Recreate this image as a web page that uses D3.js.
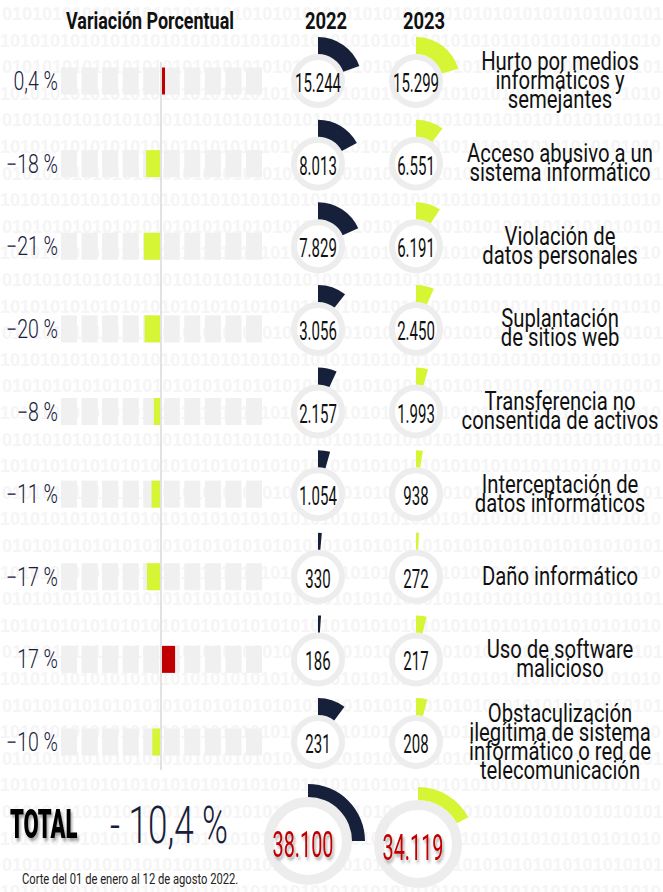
<!DOCTYPE html>
<html>
<head>
<meta charset='utf-8'>
<style>
  body { margin: 0; background: #fff; }
  text { font-family: Roboto, 'Noto Sans', sans-serif; }
</style>
<script src='https://cdn.jsdelivr.net/npm/d3@7'></script>
</head>
<body>
<script>
const categories = [
  "Hurto por medios\ninformáticos y\nsemejantes",
  "Acceso abusivo a un\nsistema informático",
  "Violación de\ndatos personales",
  "Suplantación\nde sitios web",
  "Transferencia no\nconsentida de activos",
  "Interceptación de\ndatos informáticos",
  "Daño informático",
  "Uso de software\nmalicioso",
  "Obstaculización\nilegítima de sistema\ninformático o red de\ntelecomunicación"
];
const years = ["2022", "2023"];
const values2022 = [15244, 8013, 7829, 3056, 2157, 1054, 330, 186, 231];
const values2023 = [15299, 6551, 6191, 2450, 1993, 938, 272, 217, 208];
const variation = [0.4, -18, -21, -20, -8, -11, -17, 17, -10];
// arc of each gauge in degrees, as drawn in the original (not proportional)
const arc2022 = [70, 62, 66, 38, 25, 16, 5, 4, 37];
const arc2023 = [74, 37, 33, 24, 16, 9, 4, 14, 15];
const totals = [38100, 34119];
const totalArc = [90, 62];
const totalVariation = -10.4;
const headerLeft = "Variación Porcentual";
const note = "Corte del 01 de enero al 12 de agosto 2022.";

const width = 663, height = 892;
const navy = "#17203b", lime = "#d6f534", red = "#c00000";

const loc = d3.formatLocale({ decimal: ",", thousands: ".", grouping: [3], currency: ["", ""] });
const fmtInt = loc.format(",d");
const fmtPct = v => loc.format(Number.isInteger(v) ? "d" : ".1f")(v) + " %";

const svg = d3.select("body").append("svg")
  .attr("width", width).attr("height", height);

const defs = svg.append("defs");
const sh = defs.append("filter").attr("id", "shadow").attr("x", "-20%").attr("y", "-20%").attr("width", "150%").attr("height", "150%");
sh.append("feDropShadow").attr("dx", 3).attr("dy", 3).attr("stdDeviation", 1.5)
  .attr("flood-color", "#000").attr("flood-opacity", 0.35);

// background 0101 pattern
const bg = svg.append("g");
d3.range(34).forEach(i => {
  bg.append("text")
    .attr("x", i % 2 ? 0 : 2).attr("y", 20 + i * 26.6)
    .style("font-family", "'Liberation Sans', Arial, sans-serif")
    .attr("font-weight", "bold").attr("font-size", 18)
    .attr("fill", "#f5f5f5")
    .text((i % 2 ? "10" : "01").repeat(33));
});

// condensed text helper
function ctext(g, x, y, str, size, sx, anchor) {
  return g.append("text")
    .attr("transform", `translate(${x},${y}) scale(${sx},1)`)
    .attr("text-anchor", anchor || "middle")
    .attr("font-size", size)
    .text(str);
}

const y = d3.scalePoint(categories, [81, 742]);
const x = d3.scaleLinear([-130, 130], [61, 261]);
const seg = d3.scaleBand(d3.range(10), [61, 262]).paddingInner(0.22);
const gx = d3.scalePoint(years, [318, 416]);
const ang = d3.scaleLinear([0, 360], [0, 2 * Math.PI]);
const barH = 27;

// headers
ctext(svg, 150, 29, headerLeft, 23, 0.78).attr("font-weight", "bold").attr("fill", "#111");
years.forEach(yr => ctext(svg, gx(yr) + 8, 29, yr, 23, 0.8).attr("font-weight", "bold").attr("fill", "#111"));

// axis line
svg.append("line")
  .attr("x1", x(0)).attr("x2", x(0)).attr("y1", 62).attr("y2", 770)
  .attr("stroke", "#d9d9d9").attr("stroke-width", 1.5);

const rows = svg.append("g");
categories.forEach((c, i) => {
  const cy = y(c);
  const g = rows.append("g");
  // track segments
  g.selectAll("rect.seg").data(seg.domain()).join("rect")
    .attr("class", "seg")
    .attr("x", d => seg(d)).attr("y", cy - barH / 2)
    .attr("width", seg.bandwidth()).attr("height", barH)
    .attr("fill", "#f0f0f0");
  const v = variation[i];
  const w = Math.max(3, Math.abs(x(v) - x(0)));
  g.append("rect")
    .attr("x", v < 0 ? x(0) - w - 1 : x(0) + 1).attr("y", cy - barH / 2)
    .attr("width", w).attr("height", barH)
    .attr("fill", v < 0 ? lime : red);
  ctext(g, 58, cy + 9, fmtPct(v), 25, 0.78, "end").attr("fill", navy).attr("font-weight", 300);

  // gauges
  [values2022[i], values2023[i]].forEach((val, k) => {
    const gg = g.append("g").attr("transform", `translate(${gx(years[k])},${cy})`);
    gg.append("circle").attr("r", 24).attr("fill", "#fff")
      .attr("stroke", "#ededed").attr("stroke-width", 6);
    gg.append("path")
      .attr("d", d3.arc().innerRadius(27).outerRadius(44).startAngle(0)
        .endAngle(ang(k ? arc2023[i] : arc2022[i]))())
      .attr("fill", k ? lime : navy);
    ctext(gg, 0, 11, fmtInt(val), 25, 0.6).attr("fill", "#111");
  });

  // category label
  const lines = c.split("\n");
  const lh = 19;
  const top = cy - (lines.length - 1) * lh / 2 + 8;
  lines.forEach((l, j) => ctext(g, 560, top + j * lh, l, 26, 0.78).attr("fill", "#111"));
});

// totals
const ty = 841;
ctext(svg, 10, 838, "TOTAL", 40, 0.55, "start")
  .attr("font-weight", 900).attr("fill", "#000").attr("filter", "url(#shadow)");
svg.append("text").attr("x", 110).attr("y", 843)
  .attr("font-size", 52).attr("font-weight", 300).attr("fill", navy)
  .attr("textLength", 118).attr("lengthAdjust", "spacingAndGlyphs")
  .text("- " + fmtPct(-totalVariation));
const gxT = d3.scalePoint(years, [308, 418]);
totals.forEach((val, k) => {
  const gg = svg.append("g").attr("transform", `translate(${gxT(years[k])},${ty + k * 3})`);
  gg.append("circle").attr("r", 39).attr("fill", "#fff")
    .attr("stroke", "#ededed").attr("stroke-width", 10);
  gg.append("path")
    .attr("d", d3.arc().innerRadius(44).outerRadius(57).startAngle(0).endAngle(ang(totalArc[k]))())
    .attr("fill", k ? lime : navy);
  ctext(gg, -5, 16, fmtInt(val), 36, 0.55).attr("fill", red).attr("filter", "url(#shadow)");
});

ctext(svg, 22, 884, note, 14, 0.8, "start").attr("fill", "#222");
</script>
</body>
</html>
